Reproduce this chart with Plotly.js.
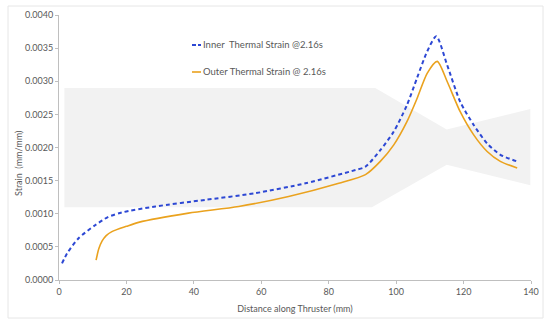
<!DOCTYPE html>
<html>
<head>
<meta charset="utf-8">
<script src="https://cdn.plot.ly/plotly-3.0.1.min.js"></script>
<style>html,body{margin:0;padding:0;background:#fff;}#chart{width:550px;height:327px;}</style>
</head>
<body>
<div id="chart"></div>
<script>
// Inner thermal strain (dashed blue)
const innerX = [0.9, 2.4, 5.8, 10.8, 14.5, 18.7, 28.6, 43.4, 58.2, 73.1, 87.9, 90.9, 95.3, 99.3, 103.2, 106.2, 109.2, 111.9, 115.1, 119, 123, 127, 130.9, 135.9];
const innerY = [0.00025, 0.00040, 0.00063, 0.00083, 0.00095, 0.00102, 0.00111, 0.00121, 0.00131, 0.00146, 0.00166, 0.00171, 0.00196, 0.00224, 0.00264, 0.00305, 0.00345, 0.00368, 0.00325, 0.00269, 0.00234, 0.00206, 0.00189, 0.00179];
// Outer thermal strain (solid orange)
const outerX = [11.0, 11.8, 12.8, 14.0, 15.7, 20, 23.6, 38.4, 53.3, 68.1, 83, 90.9, 95.3, 99.3, 103.2, 106.2, 109.2, 112.2, 115.1, 119, 123, 127, 130.9, 135.9];
const outerY = [0.00030, 0.00047, 0.00059, 0.00067, 0.00073, 0.00081, 0.00087, 0.00101, 0.00111, 0.00126, 0.00146, 0.00159, 0.00179, 0.00204, 0.00239, 0.00274, 0.00312, 0.00330, 0.00300, 0.00254, 0.00219, 0.00194, 0.00179, 0.00169];
// Grey band polygon
const bandX = [1.6, 93.8, 115, 139.8, 139.8, 115, 92.8, 1.6, 1.6];
const bandY = [0.0029, 0.0029, 0.00227, 0.00258, 0.00143, 0.00174, 0.0011, 0.0011, 0.0029];
const xTicks = [0, 20, 40, 60, 80, 100, 120, 140];
const yTicks = [0, 0.0005, 0.001, 0.0015, 0.002, 0.0025, 0.003, 0.0035, 0.004];
const innerName = 'Inner  Thermal Strain @2.16s';
const outerName = 'Outer Thermal Strain @ 2.16s';
const xTitle = 'Distance along Thruster (mm)';
const yTitle = 'Strain  (mm/mm)';

const blue = '#2d48d4';
const orange = '#eaa21e';
const fontFam = 'Lato, "Open Sans", sans-serif';

const traces = [
  {x: bandX, y: bandY, type: 'scatter', mode: 'lines', fill: 'toself', fillcolor: '#f2f2f2', line: {width: 0, color: 'rgba(0,0,0,0)'}, hoverinfo: 'skip', showlegend: false},
  {x: innerX, y: innerY, type: 'scatter', mode: 'lines', name: innerName, line: {color: blue, width: 2, dash: '4px,3px', shape: 'spline', smoothing: 0.7}, showlegend: false},
  {x: outerX, y: outerY, type: 'scatter', mode: 'lines', name: outerName, line: {color: orange, width: 1.6, shape: 'spline', smoothing: 0.7}, showlegend: false}
];

const axisCommon = {
  showgrid: false, zeroline: false, showline: true, linecolor: '#bfbfbf', linewidth: 1,
  ticks: 'outside', ticklen: 3, tickcolor: '#bfbfbf', tickwidth: 1,
  tickfont: {family: fontFam, size: 9, color: '#595959'}
};

const layout = {
  width: 550, height: 327,
  margin: {l: 59, r: 19, t: 15, b: 47},
  paper_bgcolor: '#ffffff', plot_bgcolor: '#ffffff',
  showlegend: false,
  xaxis: Object.assign({}, axisCommon, {range: [0, 140], tickvals: xTicks, ticktext: xTicks.map(String),
    title: {text: xTitle, font: {family: fontFam, size: 9, color: '#595959'}, standoff: 9}}),
  yaxis: Object.assign({}, axisCommon, {range: [0, 0.004], tickvals: yTicks, ticktext: yTicks.map(v => v.toFixed(4))}),
  shapes: [
    {type: 'rect', xref: 'paper', yref: 'paper', x0: -51/472, x1: 484/472, y0: -38/265, y1: 274/265, line: {color: '#e6e6e6', width: 1}, fillcolor: 'rgba(0,0,0,0)', layer: 'below'},
    {type: 'line', xref: 'paper', yref: 'paper', x0: (192-59)/472, x1: (201-59)/472, y0: (280-45)/265, y1: (280-45)/265, line: {color: blue, width: 2, dash: '4px,2px'}},
    {type: 'line', xref: 'paper', yref: 'paper', x0: (192-59)/472, x1: (201-59)/472, y0: (280-72)/265, y1: (280-72)/265, line: {color: orange, width: 1.6}}
  ],
  annotations: [
    {text: innerName, xref: 'paper', yref: 'paper', x: (201-59)/472, y: (280-45)/265, xanchor: 'left', yanchor: 'middle', showarrow: false, font: {family: fontFam, size: 9.5, color: '#595959'}},
    {text: outerName, xref: 'paper', yref: 'paper', x: (201-59)/472, y: (280-72)/265, xanchor: 'left', yanchor: 'middle', showarrow: false, font: {family: fontFam, size: 9.5, color: '#595959'}},
    {text: yTitle, xref: 'paper', yref: 'paper', x: (18-59)/472, y: (280-164)/265, xanchor: 'center', yanchor: 'middle', textangle: -90, showarrow: false, font: {family: fontFam, size: 9, color: '#595959'}}
  ]
};

Plotly.newPlot('chart', traces, layout, {displayModeBar: false, staticPlot: true});
</script>
</body>
</html>
